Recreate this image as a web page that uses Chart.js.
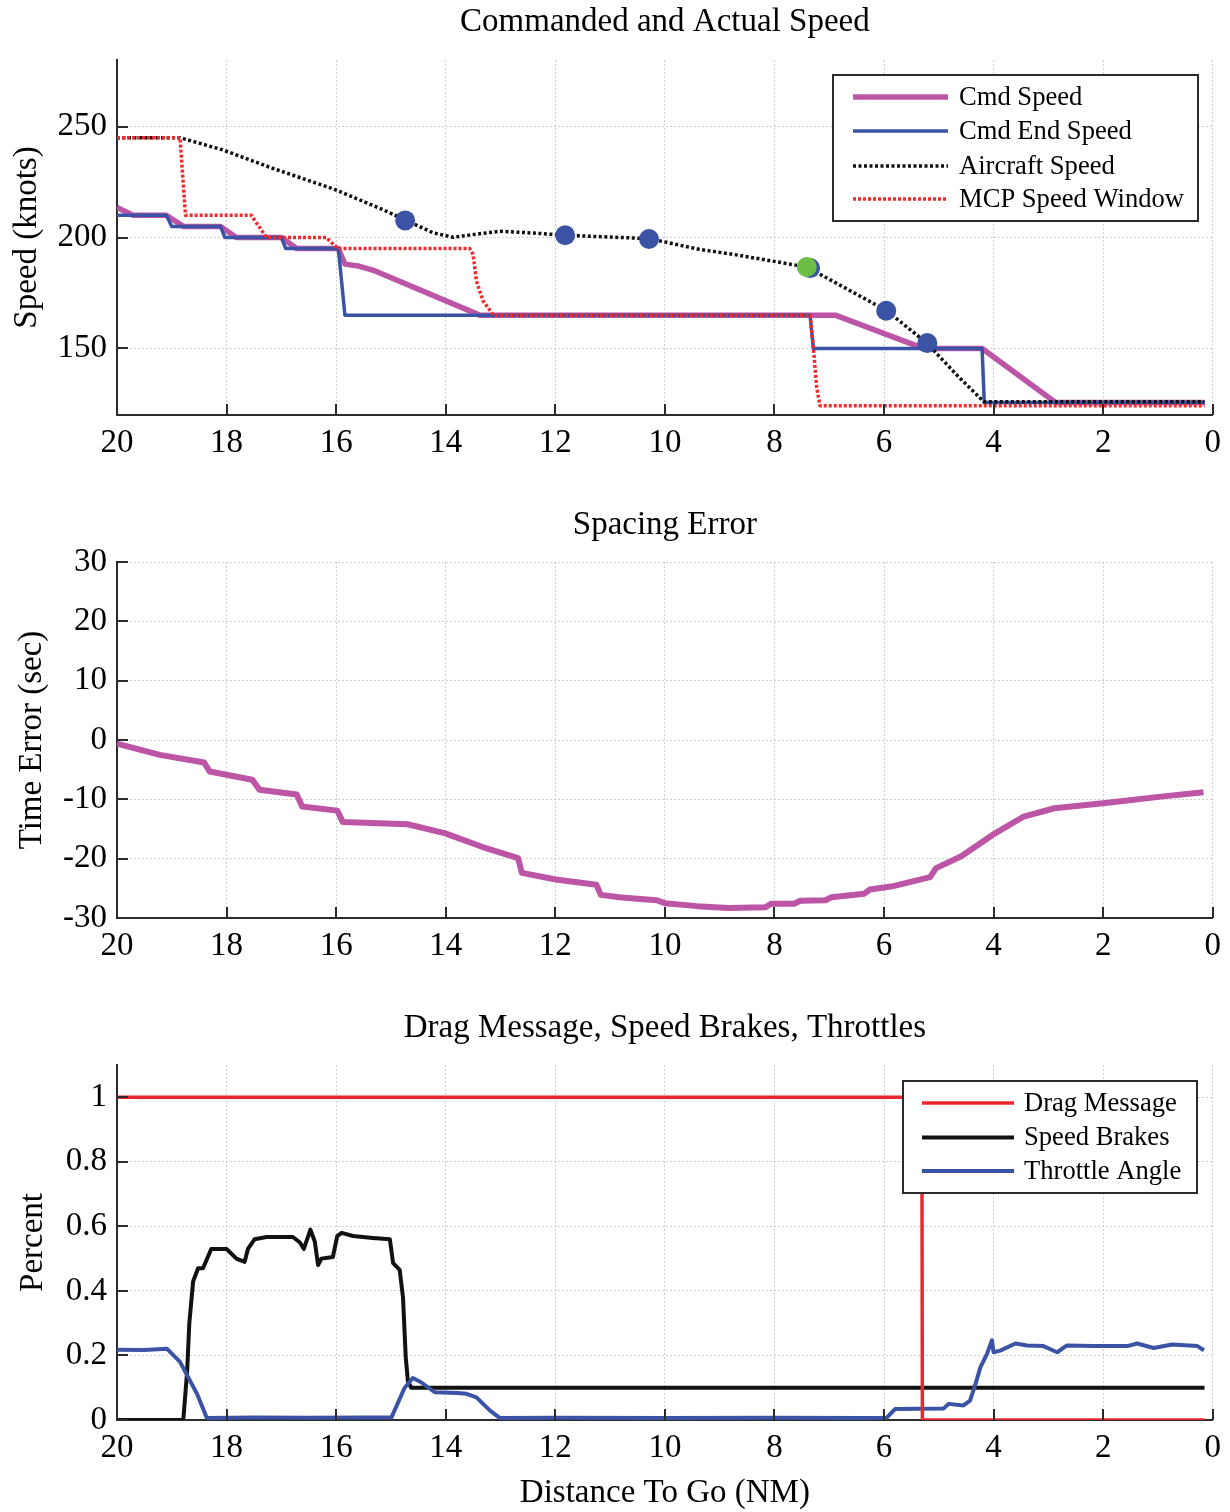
<!DOCTYPE html>
<html>
<head>
<meta charset="utf-8">
<title>Commanded and Actual Speed</title>
<script src="https://cdn.jsdelivr.net/npm/chart.js@4.4.1/dist/chart.umd.min.js"></script>
<style>
  html, body { margin: 0; padding: 0; background: #ffffff; }
  #page { position: relative; width: 1230px; height: 1512px; overflow: hidden; }
  #page canvas { position: absolute; left: 0; }
</style>
</head>
<body>
<div id="page">
  <canvas id="speedChart" width="1230" height="490" style="top:0px"></canvas>
  <canvas id="errorChart" width="1230" height="500" style="top:490px"></canvas>
  <canvas id="dragChart" width="1230" height="522" style="top:990px"></canvas>
</div>
<script>
// ---- tick labels ----
const DIST_TICKS = [20, 18, 16, 14, 12, 10, 8, 6, 4, 2, 0];
const SPEED_TICKS = [150, 200, 250];
const ERROR_TICKS = [30, 20, 10, 0, -10, -20, -30];
const PERCENT_TICKS = [0, 0.2, 0.4, 0.6, 0.8, 1];

// ---- speed panel (distance to go in NM, speed in knots) ----
const cmdSpeedDist = [20, 19.71, 19.10, 18.79, 18.11, 17.82, 17.00, 16.72, 15.96, 15.84, 15.57, 15.32, 13.38, 6.89, 5.28, 4.21, 2.87, 0.15];
const cmdSpeedKts  = [213.5, 210, 210, 205, 205, 200, 200, 195, 195, 188, 187, 185.2, 165, 165, 150, 150, 125.6, 125.6];

const cmdEndDist = [20, 19.10, 19.00, 18.11, 18.03, 17.00, 16.92, 15.96, 15.84, 7.35, 7.29, 4.21, 4.17, 0.15];
const cmdEndKts  = [210, 210, 205, 205, 200, 200, 195, 195, 165, 165, 150, 150, 125.6, 125.6];

const acSpeedDist = [20, 18.85, 18.06, 17.15, 16.05, 15.14, 14.75, 14.23, 13.86, 13.45, 13.01, 12.40, 11.81, 10.29, 9.36, 8.75, 7.41, 5.95, 5.22, 4.67, 4.18, 0.15];
const acSpeedKts  = [245, 245, 239.4, 231.1, 221.9, 212.5, 208.0, 202.1, 200.1, 201.5, 202.8, 202.0, 201.0, 199.5, 194.6, 192.4, 186.7, 167.0, 152.4, 138.0, 126.0, 126.0];

const mcpDist = [20, 18.85, 18.75, 17.55, 17.27, 16.18, 15.97, 13.56, 13.50, 13.44, 13.32, 13.13, 7.35, 7.29, 7.23, 7.17, 0.15];
const mcpKts  = [245, 245, 210, 210, 200, 200, 195, 195, 192.4, 180.4, 171.5, 165, 165, 150.6, 132.7, 124.2, 124.2];

const markerDist = [14.74, 11.82, 10.29, 7.35, 5.96, 5.21];
const markerKts  = [207.7, 201.0, 199.3, 186.2, 167.0, 152.4];
const activeMarkerDist = [7.41];
const activeMarkerKts  = [186.7];

// ---- spacing error panel (seconds) ----
const errDist = [20, 19.22, 18.41, 18.31, 17.53, 17.40, 16.72, 16.62, 15.98, 15.88, 14.70, 14.02, 13.34, 12.68, 12.61, 11.99, 11.25, 11.17, 10.83, 10.45, 10.15, 10.00, 9.41, 8.84, 8.17, 8.06, 7.64, 7.53, 7.07, 6.96, 6.36, 6.26, 5.87, 5.16, 5.05, 4.59, 4.02, 3.45, 2.89, 1.96, 0.90, 0.17];
const errSec  = [-0.6, -2.5, -3.8, -5.3, -6.7, -8.4, -9.2, -11.2, -11.9, -13.8, -14.2, -15.7, -18.0, -19.9, -22.4, -23.5, -24.4, -26.1, -26.5, -26.8, -27.0, -27.5, -28.0, -28.3, -28.2, -27.6, -27.6, -27.1, -27.0, -26.5, -25.9, -25.2, -24.7, -23.1, -21.6, -19.6, -16.0, -12.9, -11.5, -10.6, -9.5, -8.8];

// ---- drag / speed brake / throttle panel (fraction) ----
const dragDist = [20, 5.31, 5.30, 0.15];
const dragPct  = [1, 1, 0, 0];

const brakeDist = [20, 18.79, 18.72, 18.68, 18.61, 18.52, 18.43, 18.28, 18.00, 17.82, 17.67, 17.61, 17.49, 17.27, 16.79, 16.66, 16.59, 16.51, 16.47, 16.39, 16.33, 16.27, 16.06, 15.98, 15.90, 15.69, 15.33, 15.02, 14.96, 14.84, 14.78, 14.73, 14.69, 14.63, 0.15];
const brakePct  = [0, 0, 0.15, 0.30, 0.43, 0.47, 0.47, 0.53, 0.53, 0.50, 0.49, 0.53, 0.56, 0.567, 0.567, 0.55, 0.53, 0.57, 0.59, 0.553, 0.48, 0.50, 0.505, 0.57, 0.58, 0.57, 0.564, 0.56, 0.486, 0.465, 0.38, 0.195, 0.12, 0.10, 0.10];

const throttleDist = [20, 19.5, 19.09, 18.85, 18.54, 18.36, 17.5, 16.5, 15.5, 14.99, 14.75, 14.60, 14.45, 14.20, 13.78, 13.62, 13.44, 13.19, 13.01, 12, 10, 8, 6.43, 5.95, 5.80, 4.91, 4.82, 4.55, 4.43, 4.33, 4.24, 4.12, 4.03, 4.00, 3.88, 3.60, 3.39, 3.09, 2.84, 2.66, 2.17, 1.56, 1.38, 1.08, 0.74, 0.28, 0.16];
const throttlePct  = [0.218, 0.217, 0.221, 0.18, 0.081, 0.006, 0.008, 0.007, 0.008, 0.008, 0.10, 0.13, 0.117, 0.086, 0.084, 0.081, 0.070, 0.029, 0.006, 0.007, 0.006, 0.007, 0.006, 0.007, 0.034, 0.036, 0.050, 0.045, 0.06, 0.112, 0.164, 0.205, 0.247, 0.21, 0.215, 0.237, 0.231, 0.229, 0.21, 0.231, 0.229, 0.229, 0.237, 0.223, 0.234, 0.229, 0.216];

// ---- styling ----
const SERIF = '"Liberation Serif", "Times New Roman", Times, serif';
const TEXT_SIZE = 33;
const LEGEND_SIZE = 26.6;
const AXIS_COLOR = '#2b2b2b';
const GRID_COLOR = '#cfcfcf';
const PURPLE = '#bc55a6';
const BLUE = '#3a53a4';
const RED = '#ee2b2f';
const BLACK = '#111111';
const GREEN = '#6cbe45';

Chart.defaults.font.family = SERIF;
Chart.defaults.font.size = TEXT_SIZE;
Chart.defaults.color = '#000000';

function pts(xs, ys) {
  return xs.map((x, i) => ({ x: x, y: ys[i] }));
}

function lineSet(label, xs, ys, style) {
  return Object.assign({
    label: label,
    data: pts(xs, ys),
    showLine: true,
    pointRadius: 0,
    pointHoverRadius: 0,
    fill: false,
    tension: 0,
    borderJoinStyle: 'round',
    borderCapStyle: 'butt'
  }, style);
}

function markerSet(label, xs, ys, color, order) {
  return {
    label: label,
    data: pts(xs, ys),
    showLine: false,
    pointRadius: 10,
    pointHoverRadius: 10,
    pointBackgroundColor: color,
    pointBorderColor: color,
    pointBorderWidth: 0,
    order: order
  };
}

// inward tick marks on the left and bottom axes
const innerTicks = {
  id: 'innerTicks',
  afterDatasetsDraw(chart) {
    const ctx = chart.ctx;
    const area = chart.chartArea;
    const xs = chart.scales.x, ys = chart.scales.y;
    const len = 11;
    ctx.save();
    ctx.strokeStyle = AXIS_COLOR;
    ctx.lineWidth = 2;
    ctx.beginPath();
    xs.ticks.forEach(t => {
      const px = Math.round(xs.getPixelForValue(t.value));
      ctx.moveTo(px, area.bottom);
      ctx.lineTo(px, area.bottom - len);
    });
    ys.ticks.forEach(t => {
      const py = Math.round(ys.getPixelForValue(t.value));
      ctx.moveTo(area.left, py);
      ctx.lineTo(area.left + len, py);
    });
    ctx.stroke();
    ctx.restore();
  }
};

// boxed legend inside the plot
const boxedLegend = {
  id: 'boxedLegend',
  afterDatasetsDraw(chart, args, opts) {
    if (!opts || !opts.entries) return;
    const ctx = chart.ctx;
    ctx.save();
    ctx.fillStyle = '#ffffff';
    ctx.fillRect(opts.left, opts.top, opts.width, opts.height);
    ctx.strokeStyle = AXIS_COLOR;
    ctx.lineWidth = 2;
    ctx.strokeRect(opts.left, opts.top, opts.width, opts.height);
    ctx.font = LEGEND_SIZE + 'px ' + SERIF;
    ctx.textAlign = 'left';
    ctx.textBaseline = 'middle';
    opts.entries.forEach((dsIndex, i) => {
      const ds = chart.data.datasets[dsIndex];
      const y = opts.rowY[i];
      ctx.strokeStyle = ds.borderColor;
      ctx.lineWidth = ds.borderWidth;
      ctx.setLineDash(ds.borderDash || []);
      ctx.beginPath();
      ctx.moveTo(opts.lineX0, y);
      ctx.lineTo(opts.lineX1, y);
      ctx.stroke();
      ctx.setLineDash([]);
      ctx.fillStyle = '#000000';
      ctx.fillText(ds.label, opts.textX, y + 1);
    });
    ctx.restore();
  }
};

// panel title, y-axis title and optional x-axis title
const panelText = {
  id: 'panelText',
  afterDraw(chart, args, opts) {
    const ctx = chart.ctx;
    const area = chart.chartArea;
    const cx = (area.left + area.right) / 2;
    ctx.save();
    ctx.fillStyle = '#000000';
    ctx.font = TEXT_SIZE + 'px ' + SERIF;
    ctx.textAlign = 'center';
    ctx.textBaseline = 'middle';
    if (opts.title) ctx.fillText(opts.title, cx, area.top - opts.titleGap);
    if (opts.xTitle) ctx.fillText(opts.xTitle, cx, area.bottom + opts.xTitleGap);
    if (opts.yTitle) {
      ctx.translate(opts.yTitleX, (area.top + area.bottom) / 2);
      ctx.rotate(-Math.PI / 2);
      ctx.fillText(opts.yTitle, 0, 0);
    }
    ctx.restore();
  }
};

function buildPanel(canvasId, p) {
  return new Chart(document.getElementById(canvasId), {
    type: 'scatter',
    data: { datasets: p.datasets },
    plugins: [innerTicks, boxedLegend, panelText],
    options: {
      responsive: false,
      animation: false,
      events: [],
      layout: { padding: { top: p.plotTop, right: 17, bottom: 0, left: 0 } },
      plugins: {
        legend: { display: false },
        tooltip: { enabled: false },
        boxedLegend: p.legend || {},
        panelText: p.text
      },
      scales: {
        x: {
          type: 'linear',
          min: 0,
          max: 20,
          reverse: true,
          afterBuildTicks: s => { s.ticks = DIST_TICKS.map(v => ({ value: v })); },
          afterFit: s => { s.height = p.xBox; },
          ticks: { padding: 9, autoSkip: false, maxRotation: 0, color: '#000', callback: v => String(v) },
          grid: { color: GRID_COLOR, lineWidth: 1, drawTicks: false },
          border: { display: true, color: AXIS_COLOR, width: 2, dash: [2, 2] }
        },
        y: {
          type: 'linear',
          min: p.yMin,
          max: p.yMax,
          afterBuildTicks: s => { s.ticks = p.yTicks.map(v => ({ value: v })); },
          afterFit: s => { s.width = 117; },
          ticks: { padding: 10, autoSkip: false, color: '#000', callback: v => String(v) },
          grid: { color: GRID_COLOR, lineWidth: 1, drawTicks: false },
          border: { display: true, color: AXIS_COLOR, width: 2, dash: [2, 2] }
        }
      }
    }
  });
}

// Commanded and Actual Speed
buildPanel('speedChart', {
  plotTop: 60,
  xBox: 75,
  yMin: 120,
  yMax: 280,
  yTicks: SPEED_TICKS,
  datasets: [
    lineSet('Cmd Speed', cmdSpeedDist, cmdSpeedKts, { borderColor: PURPLE, borderWidth: 5.5, order: 5 }),
    lineSet('Cmd End Speed', cmdEndDist, cmdEndKts, { borderColor: BLUE, borderWidth: 3.5, order: 4 }),
    lineSet('Aircraft Speed', acSpeedDist, acSpeedKts, { borderColor: BLACK, borderWidth: 3.5, borderDash: [3, 2.5], order: 3 }),
    lineSet('MCP Speed Window', mcpDist, mcpKts, { borderColor: RED, borderWidth: 3.5, borderDash: [3, 2], order: 2 }),
    markerSet('Waypoints', markerDist, markerKts, BLUE, 1),
    markerSet('Current', activeMarkerDist, activeMarkerKts, GREEN, 0)
  ],
  legend: {
    entries: [0, 1, 2, 3],
    left: 833, top: 75, width: 365, height: 146,
    rowY: [97, 131, 166, 199],
    lineX0: 853, lineX1: 948, textX: 959
  },
  text: { title: 'Commanded and Actual Speed', titleGap: 38, yTitle: 'Speed (knots)', yTitleX: 27 }
});

// Spacing Error
buildPanel('errorChart', {
  plotTop: 72,
  xBox: 72,
  yMin: -30,
  yMax: 30,
  yTicks: ERROR_TICKS,
  datasets: [
    lineSet('Spacing Error', errDist, errSec, { borderColor: PURPLE, borderWidth: 6 })
  ],
  text: { title: 'Spacing Error', titleGap: 37, yTitle: 'Time Error (sec)', yTitleX: 32 }
});

// Drag Message, Speed Brakes, Throttles
buildPanel('dragChart', {
  plotTop: 75,
  xBox: 92,
  yMin: 0,
  yMax: 1.1,
  yTicks: PERCENT_TICKS,
  datasets: [
    lineSet('Drag Message', dragDist, dragPct, { borderColor: '#e8282c', borderWidth: 3.5, order: 0 }),
    lineSet('Speed Brakes', brakeDist, brakePct, { borderColor: BLACK, borderWidth: 4, order: 2 }),
    lineSet('Throttle Angle', throttleDist, throttlePct, { borderColor: BLUE, borderWidth: 4, order: 1 })
  ],
  legend: {
    entries: [0, 1, 2],
    left: 903, top: 91, width: 294, height: 112,
    rowY: [113, 147.5, 181],
    lineX0: 922, lineX1: 1014, textX: 1024
  },
  text: { title: 'Drag Message, Speed Brakes, Throttles', titleGap: 37, yTitle: 'Percent', yTitleX: 33, xTitle: 'Distance To Go (NM)', xTitleGap: 73 }
});
</script>
</body>
</html>
